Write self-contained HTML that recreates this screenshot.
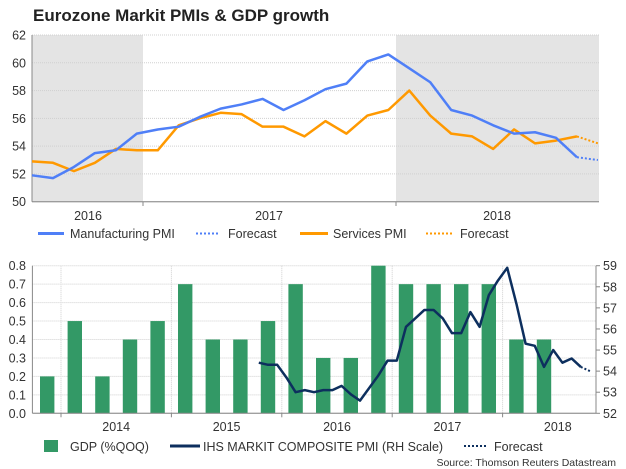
<!DOCTYPE html>
<html><head><meta charset="utf-8"><style>
body{margin:0;background:#fff;}
svg{display:block;font-family:"Liberation Sans",Arial,sans-serif;}
</style></head><body>
<svg id="c" width="626" height="469" viewBox="0 0 626 469">
<text x="33" y="21" font-size="17" font-weight="bold" fill="#222">Eurozone Markit PMIs &amp; GDP growth</text>
<g id="top"></g><g id="bot"></g>
</svg>
<script>
// ---- top chart data ----
const mfgValues=[51.9,51.7,52.5,53.5,53.7,54.9,55.2,55.4,56.1,56.7,57.0,57.4,56.6,57.3,58.1,58.5,60.1,60.6,59.6,58.6,56.6,56.2,55.5,54.9,55.0,54.6,53.2];
const mfgForecast=[53.2,53.0];
const svcValues=[52.9,52.8,52.2,52.8,53.8,53.7,53.7,55.5,56.0,56.4,56.3,55.4,55.4,54.7,55.8,54.9,56.2,56.6,58.0,56.2,54.9,54.7,53.8,55.2,54.2,54.4,54.7];
const svcForecast=[54.7,54.2];
const topTicks=[50,52,54,56,58,60,62];
const topYears=["2016","2017","2018"];
// ---- bottom chart data ----
const gdpValues=[0.2,0.5,0.2,0.4,0.5,0.7,0.4,0.4,0.5,0.7,0.3,0.3,0.8,0.7,0.7,0.7,0.7,0.4,0.4];
const pmiStart=21;
const pmiValues=[54.4,54.3,54.3,53.7,53.0,53.1,53.0,53.1,53.1,53.3,52.9,52.6,53.2,53.8,54.5,54.5,56.1,56.5,56.9,56.9,56.5,55.8,55.8,56.8,56.1,57.6,58.3,58.9,57.2,55.3,55.2,54.2,55.0,54.4,54.6,54.2];
const pmiForecast=[54.2,54.0];
const leftTicks=["0.0","0.1","0.2","0.3","0.4","0.5","0.6","0.7","0.8"];
const rightTicks=[52,53,54,55,56,57,58,59];
const botYears=["2014","2015","2016","2017","2018"];

const NS="http://www.w3.org/2000/svg";
function mk(p,t,a,txt){const e=document.createElementNS(NS,t);for(const k in a)e.setAttribute(k,a[k]);if(txt!==undefined)e.textContent=txt;p.appendChild(e);return e;}
const T=document.getElementById('top'),B=document.getElementById('bot');

const tx=i=>32+i*20.96, ty=v=>201.7-(v-50)*(201.7-35)/12;
let r=mk(T,'rect',{x:32,y:35,width:111,height:166.7,fill:'#e4e4e4'});


r=mk(T,'rect',{x:396,y:35,width:203,height:166.7,fill:'#e4e4e4'});


topTicks.forEach(v=>{
 const g=mk(T,'line',{x1:32,x2:599,y1:ty(v),y2:ty(v),stroke:'#d0d0d0','stroke-dasharray':v==50?'':'1,1'});
 
 
 const l=mk(T,'text',{x:26,y:ty(v)+4.5,'font-size':12.5,fill:'#333','text-anchor':'end'},v);
 
 
});
mk(T,'line',{x1:32,x2:32,y1:35,y2:201.7,stroke:'#888'});
mk(T,'line',{x1:32,x2:599,y1:201.7,y2:201.7,stroke:'#888'});
[143,396].forEach(x=>mk(T,'line',{x1:x,x2:x,y1:201.7,y2:206,stroke:'#888'}));
[88,269,497].forEach((x,i)=>{const l=mk(T,'text',{x:x,y:220,'font-size':12.5,fill:'#333','text-anchor':'middle'},topYears[i]);
 
 });
function pts(arr,off,fx,fy){return arr.map((v,i)=>fx(i+off)+','+fy(v)).join(' ');}
let p=mk(T,'polyline',{points:pts(svcValues,0,tx,ty),fill:'none',stroke:'#ff9900','stroke-width':2.5,'stroke-linejoin':'round'});


p=mk(T,'polyline',{points:pts(svcForecast,26,tx,ty),fill:'none',stroke:'#ff9900','stroke-width':2,'stroke-dasharray':'2,2'});


p=mk(T,'polyline',{points:pts(mfgValues,0,tx,ty),fill:'none',stroke:'#4f7ff7','stroke-width':2.5,'stroke-linejoin':'round'});


p=mk(T,'polyline',{points:pts(mfgForecast,26,tx,ty),fill:'none',stroke:'#4f7ff7','stroke-width':2,'stroke-dasharray':'2,2'});


[[38,64,'#4f7ff7','','Manufacturing PMI',70],[196,220,'#4f7ff7','2,2','Forecast',228],[300,328,'#ff9900','','Services PMI',333],[426,454,'#ff9900','2,2','Forecast',460]].forEach(d=>{
 const g=mk(T,'g',{});
 
 
 mk(g,'line',{x1:d[0],x2:d[1],y1:233.5,y2:233.5,stroke:d[2],'stroke-width':d[3]?2:3,'stroke-dasharray':d[3]});
 mk(g,'text',{x:d[5],y:238,'font-size':12.5,fill:'#333'},d[4]);
});

const by0=413.3,by1=265.7;
const ly=v=>by0-v*(by0-by1)/0.8, ry=v=>by0-(v-52)*(by0-by1)/7;
const bx=i=>47.2+i*27.6, mx=k=>61+(k+0.5)*9.2;
leftTicks.forEach((t,i)=>{
 const v=parseFloat(t);
 const g=mk(B,'line',{x1:32.4,x2:596,y1:ly(v),y2:ly(v),stroke:'#d0d0d0','stroke-dasharray':v==0?'':'1,1'});
 
 
 const l=mk(B,'text',{x:26,y:ly(v)+4.5,'font-size':12.5,fill:'#333','text-anchor':'end'},t);
 
 
});
rightTicks.forEach(v=>{
 mk(B,'line',{x1:596,x2:600,y1:ry(v),y2:ry(v),stroke:'#888'});
 const l=mk(B,'text',{x:603,y:ry(v)+4.5,'font-size':12.5,fill:'#333'},v);
 
 
});
[61,171.4,281.8,392.2,502.6].forEach((x,i)=>{
 mk(B,'line',{x1:x,x2:x,y1:by1,y2:by0,stroke:'#d0d0d0','stroke-dasharray':'1,1'});
 mk(B,'line',{x1:x,x2:x,y1:by0,y2:by0+4,stroke:'#888'});
 const l=mk(B,'text',{x:x+55.2,y:431,'font-size':12.5,fill:'#333','text-anchor':'middle'},botYears[i]);
 
 
});
gdpValues.forEach((v,i)=>{
 const b=mk(B,'rect',{x:bx(i)-7.2,y:ly(v),width:14.4,height:by0-ly(v),fill:'#339966'});
 
 
});
mk(B,'line',{x1:32.4,x2:32.4,y1:by1,y2:by0,stroke:'#888'});
mk(B,'line',{x1:596,x2:596,y1:by1,y2:by0,stroke:'#888'});
mk(B,'line',{x1:32.4,x2:596,y1:by0,y2:by0,stroke:'#888'});
p=mk(B,'polyline',{points:pts(pmiValues,pmiStart,mx,ry),fill:'none',stroke:'#0d2f5e','stroke-width':2.5,'stroke-linejoin':'round'});


p=mk(B,'polyline',{points:pts(pmiForecast,pmiStart+pmiValues.length-1,mx,ry),fill:'none',stroke:'#0d2f5e','stroke-width':2,'stroke-dasharray':'2,2'});


let g=mk(B,'g',{});


mk(g,'rect',{x:44,y:440,width:14,height:12,fill:'#339966'});
mk(g,'text',{x:70,y:451,'font-size':12.5,fill:'#333'},'GDP (%QOQ)');
g=mk(B,'g',{});


mk(g,'line',{x1:170,x2:200,y1:446,y2:446,stroke:'#0d2f5e','stroke-width':3});
mk(g,'text',{x:203,y:451,'font-size':12.5,fill:'#333'},'IHS MARKIT COMPOSITE PMI (RH Scale)');
g=mk(B,'g',{});


mk(g,'line',{x1:464,x2:486,y1:446,y2:446,stroke:'#0d2f5e','stroke-width':2,'stroke-dasharray':'2,2'});
mk(g,'text',{x:494,y:451,'font-size':12.5,fill:'#333'},'Forecast');
const s=mk(B,'text',{x:616,y:466,'font-size':10.5,fill:'#333','text-anchor':'end'},'Source: Thomson Reuters Datastream');


</script>
</body></html>
